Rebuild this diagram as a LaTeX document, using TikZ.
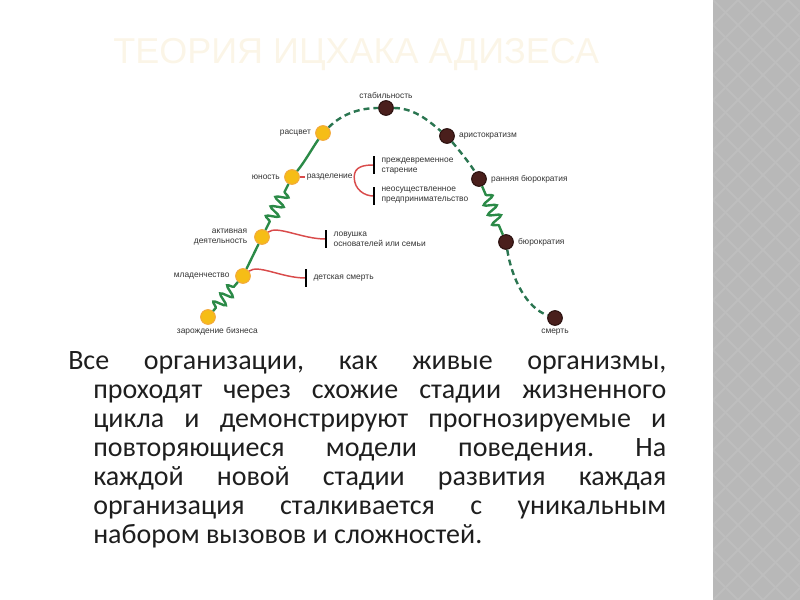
\documentclass[tikz,border=0pt]{standalone}
\usepackage{fontspec}
\setmainfont{Carlito}
\newfontfamily\azsmall{Liberation Sans}
\newfontfamily\aztitle{Liberation Sans}
\usepackage{xcolor}
\usetikzlibrary{
    arrows.meta,
    positioning,
    decorations.pathmorphing
}
\definecolor{azGreen}{HTML}{2B8A47}
\definecolor{azDarkGreen}{HTML}{2A7550}
\definecolor{azRed}{HTML}{D94B4B}
\definecolor{azGold}{HTML}{F6BD16}
\definecolor{azGoldRim}{HTML}{F3AA3C}
\definecolor{azBrown}{HTML}{4A1F1C}
\definecolor{azBrownRim}{HTML}{2C1210}
\definecolor{azStrip}{HTML}{B8B8B8}
\definecolor{azStripLine}{HTML}{BEBEBE}
\definecolor{azTitle}{HTML}{FBF5E7}
\definecolor{azLabel}{HTML}{333333}
\definecolor{azText}{HTML}{1E1E1E}
\tikzset{
    azYellow/.style={
        circle,
        fill=azGold,
        draw=azGoldRim,
        line width=0.8pt,
        minimum size=11pt,
        inner sep=0pt
    },
    azDark/.style={
        circle,
        fill=azBrown,
        draw=azBrownRim,
        line width=0.8pt,
        minimum size=11pt,
        inner sep=0pt
    },
    azTag/.style={
        font=\azsmall\fontsize{6.3}{7.4}\selectfont,
        text=azLabel,
        inner sep=1pt
    },
    azSolid/.style={draw=azGreen,line width=1.8pt},
    azDash/.style={draw=azDarkGreen,line width=1.8pt,dash pattern=on 4.5pt off 3pt},
    azCoil/.style={azSolid,decorate,
        decoration={snake,segment length=8pt,amplitude=4.5pt,#1}},
    azRedLine/.style={draw=azRed,line width=1.1pt},
    azStop/.style={azRedLine,-{Bar[width=13pt,line width=1.6pt,color=black]}}
}

\begin{document}
\begin{tikzpicture}[x=0.75pt,y=-0.75pt]
    \useasboundingbox (0,0) rectangle (800,600);

    % side strip
    \fill[azStrip] (713,0) rectangle (800,600);
    \begin{scope}
        \clip (713,0) rectangle (800,600);
        \foreach \k in {-100,-75,...,700} {
            \draw[azStripLine,line width=1.5pt] (713,\k) -- +(87,87);
            \draw[azStripLine,line width=1.5pt] (713,\k) -- +(87,-87);
        }
    \end{scope}

    \node[font=\aztitle\fontsize{27}{30}\selectfont,text=azTitle,anchor=base west,inner sep=0pt]
        (title) at (113,63) {ТЕОРИЯ ИЦХАКА АДИЗЕСА};

    % stages
    \node[azYellow] (zar) at (208,317) {};
    \node[azYellow] (mlad) at (243,276) {};
    \node[azYellow] (akt) at (262,237) {};
    \node[azYellow] (yun) at (292,177) {};
    \node[azYellow] (ras) at (323,133) {};
    \node[azDark] (stab) at (386,108) {};
    \node[azDark] (arist) at (447,136) {};
    \node[azDark] (rbur) at (479,179) {};
    \node[azDark] (bur) at (506,242) {};
    \node[azDark] (smert) at (555,318) {};

    \node[azTag,below=1pt of zar,xshift=7pt] (zarL) {зарождение бизнеса};
    \node[azTag,left=3pt of mlad] (mladL) {младенчество};
    \node[azTag,left=4pt of akt,align=right] (aktL) {активная\\деятельность};
    \node[azTag,left=2pt of yun] (yunL) {юность};
    \node[azTag,left=2pt of ras] (rasL) {расцвет};
    \node[azTag,above=0pt of stab] (stabL) {стабильность};
    \node[azTag,right=2pt of arist] (aristL) {аристократизм};
    \node[azTag,right=2pt of rbur] (rburL) {ранняя бюрократия};
    \node[azTag,right=2pt of bur] (burL) {бюрократия};
    \node[azTag,below=1pt of smert] (smertL) {смерть};

    % traps
    \node[azTag,right=4pt of yun] (razd) {разделение};
    \node[azTag,anchor=west,align=left] (early) at (380,166) {преждевременное\\старение};
    \node[azTag,anchor=west,align=left] (unreal) at (380,195) {неосуществленное\\предпринимательство};
    \node[azTag,anchor=west,align=left] (trap) at (332,239) {ловушка\\основателей или семьи};
    \node[azTag,anchor=west] (death) at (312,278) {детская смерть};
    \coordinate (earlyEnd) at (375,165);
    \coordinate (unrealEnd) at (375,196);
    \coordinate (trapEnd) at (327,239);
    \coordinate (deathEnd) at (307,278);

    % curve
    \draw[azCoil={pre length=3pt,post length=2pt}] (zar) -- (mlad);
    \draw[azSolid] (mlad) -- (akt);
    \draw[azCoil={pre length=7pt,post length=3pt}] (akt) -- (yun);
    \draw[azSolid] (yun) .. controls +(12,-14) and +(-10,14) .. (ras);
    \draw[azDash] (ras) .. controls +(20,-20) and +(-25,0) .. (stab);
    \draw[azDash] (stab) .. controls +(30,0) and +(-15,-12) .. (arist);
    \draw[azDash] (arist) .. controls +(12,14) and +(-8,-14) .. (rbur);
    \draw[azCoil={pre length=7pt,post length=5pt}] (rbur) -- (bur);
    \draw[azDash] (bur) .. controls +(6,38) and +(-28,-10) .. (smert);

    \draw[azRedLine] (yun) -- (razd);
    \draw[azStop] (razd.east) .. controls +(0,-11) and +(-10,0) .. (earlyEnd);
    \draw[azStop] (razd.east) .. controls +(0,13) and +(-10,0) .. (unrealEnd);
    \draw[azStop] (akt) .. controls +(15,-12) and +(-25,0) .. (trapEnd);
    \draw[azStop] (mlad) .. controls +(15,-12) and +(-25,0) .. (deathEnd);

    \node[anchor=north west,inner sep=0pt,text width=448.5pt,align=justify,
        font=\fontsize{21}{21.8}\selectfont,text=azText] (body) at (68,348.7)
        {\noindent\frenchspacing\hyphenpenalty=10000\exhyphenpenalty=10000%
        \hangindent=18.75pt\hangafter=1\strut
        Все организации, как живые организмы,\linebreak
        проходят через схожие стадии жизненного\linebreak
        цикла и демонстрируют прогнозируемые и\linebreak
        повторяющиеся модели поведения. На\linebreak
        каждой новой стадии развития каждая\linebreak
        организация сталкивается с уникальным\linebreak
        набором вызовов и сложностей.\par};
\end{tikzpicture}
\end{document}
